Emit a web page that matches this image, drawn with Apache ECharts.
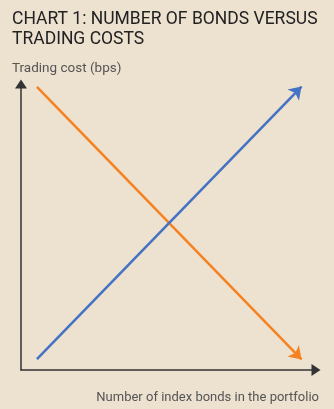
<!DOCTYPE html>
<html><head><meta charset="utf-8">
<script src="https://cdn.jsdelivr.net/npm/echarts@6/dist/echarts.min.js"></script>
<style>html,body{margin:0;padding:0;background:#ede1cf;}#c{width:334px;height:409px;}</style>
</head><body><div id="c"></div>
<script>
const titleLines = ["CHART 1: NUMBER OF BONDS VERSUS", "TRADING COSTS"];
const yAxisName = "Trading cost (bps)";
const xAxisName = "Number of index bonds in the portfolio";
// schematic lines: [x, y] start and end in arbitrary units (0-10)
const tradingCostLine = [[0.54, 9.9], [9.51, 0.37]];   // orange, falling
const secondLine = [[0.54, 0.38], [9.51, 9.91]];       // blue, rising

const chart = echarts.init(document.getElementById('c'));
const font = 'Roboto';
chart.setOption({
  backgroundColor: '#ede1cf',
  animation: false,
  title: [
    {text: titleLines.join('\n'), left: 7, top: 5,
     textStyle: {fontFamily: font, fontSize: 17.5, fontWeight: 'normal', color: '#222', lineHeight: 20}},
    {text: yAxisName, left: 7, top: 57,
     textStyle: {fontFamily: font, fontSize: 13.5, fontWeight: 'normal', color: '#555'}},
    {text: xAxisName, right: 10, top: 386,
     textStyle: {fontFamily: font, fontSize: 13, fontWeight: 'normal', color: '#555'}}
  ],
  grid: {left: 21, right: 18, top: 84, bottom: 39},
  xAxis: {type: 'value', min: 0, max: 10,
    axisLine: {show: true, symbol: ['none', 'triangle'], symbolSize: [12, 9], lineStyle: {color: '#333', width: 1.5}},
    axisTick: {show: false}, axisLabel: {show: false}, splitLine: {show: false}},
  yAxis: {type: 'value', min: 0, max: 10,
    axisLine: {show: true, symbol: ['none', 'triangle'], symbolSize: [12, 9], lineStyle: {color: '#333', width: 1.5}},
    axisTick: {show: false}, axisLabel: {show: false}, splitLine: {show: false}},
  series: [
    {type: 'lines', coordinateSystem: 'cartesian2d', symbol: ['none', 'arrow'], symbolSize: 12,
     lineStyle: {color: '#f58220', width: 2.5, opacity: 1},
     data: [{coords: tradingCostLine}]},
    {type: 'lines', coordinateSystem: 'cartesian2d', symbol: ['none', 'arrow'], symbolSize: 12,
     lineStyle: {color: '#4472c4', width: 2.5, opacity: 1},
     data: [{coords: secondLine}]}
  ]
});
</script></body></html>
